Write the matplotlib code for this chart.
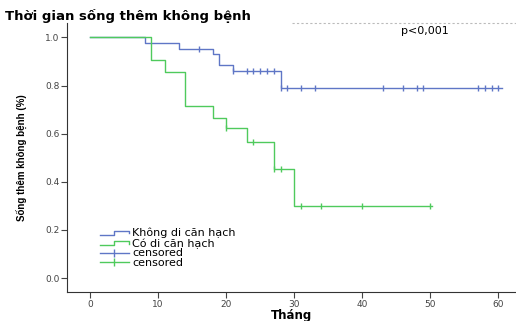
import matplotlib.pyplot as plt
from matplotlib.lines import Line2D
from matplotlib.legend_handler import HandlerBase

# data
blue_times = [0, 8, 13, 18, 19, 21, 28]
blue_surv = [1.0, 0.977, 0.954, 0.932, 0.886, 0.860, 0.789]
blue_end = 60.5
blue_cens_t = [16, 21, 23, 24, 25, 26, 27, 28, 29, 31, 33, 43, 46, 48, 49, 57, 58, 59, 60]

green_times = [0, 9, 11, 14, 18, 20, 23, 27, 30]
green_surv = [1.0, 0.905, 0.857, 0.714, 0.667, 0.622, 0.566, 0.453, 0.300]
green_end = 50.3
green_cens_t = [20, 24, 27, 28, 31, 34, 40, 50]

labels = ['Không di căn hạch', 'Có di căn hạch', 'censored', 'censored']
blue = '#5f76c6'
green = '#4fca5c'

plt.rcParams['font.family'] = ['DejaVu Sans']


def surv_at(times, surv, t):
    v = surv[0]
    for ti, si in zip(times, surv):
        if ti <= t:
            v = si
    return v


class StepHandler(HandlerBase):
    def create_artists(self, legend, orig, xd, yd, w, h, fs, trans):
        lo, hi = yd + h * 0.2, yd + h * 0.7
        xs = [xd, xd + w * 0.5, xd + w * 0.5, xd + w, xd + w]
        ys = [lo, lo, hi, hi, hi - h * 0.3]
        ln = Line2D(xs, ys, color=orig.get_color(), lw=1, transform=trans)
        return [ln]


W, H = 516, 321
fig = plt.figure(figsize=(W / 100, H / 100), dpi=100)
ax = fig.add_axes([67 / W, 1 - 292 / H, 1 - 67 / W, (292 - 23) / H])

for times, surv, end, cens, col in [(blue_times, blue_surv, blue_end, blue_cens_t, blue),
                                    (green_times, green_surv, green_end, green_cens_t, green)]:
    ax.step(times + [end], surv + [surv[-1]], where='post', color=col, lw=1)
    cy = [surv_at(times, surv, t) for t in cens]
    ax.plot(cens, cy, ls='none', marker='|', ms=5, mew=1, color=col)

ax.set_xlim(-3.4, 62.6)
ax.set_ylim(-0.058, 1.06)
ax.set_xticks([0, 10, 20, 30, 40, 50, 60])
ax.set_yticks([0.0, 0.2, 0.4, 0.6, 0.8, 1.0])
ax.set_yticklabels(['0.0', '0.2', '0.4', '0.6', '0.8', '1.0'])
for s in ['top', 'right']:
    ax.spines[s].set_visible(False)
for s in ['left', 'bottom']:
    ax.spines[s].set_color('#333333')
    ax.spines[s].set_linewidth(0.8)
ax.tick_params(labelsize=6.5, colors='#444444', length=4, width=0.8, pad=1.5)
ax.set_xlabel('Tháng', fontsize=8.5, fontweight='bold', labelpad=0)
ax.set_ylabel('Sống thêm không bệnh (%)', fontsize=7, fontweight='bold', labelpad=12,
              family=['Liberation Sans Narrow', 'Liberation Sans'])

h1 = Line2D([], [], color=blue)
h2 = Line2D([], [], color=green)
h3 = Line2D([], [], color=blue, marker='|', ms=6, lw=1)
h4 = Line2D([], [], color=green, marker='|', ms=6, lw=1)
ax.legend([h1, h2, h3, h4], labels, handler_map={h1: StepHandler(), h2: StepHandler()},
          loc='upper left', bbox_to_anchor=(100 / W, 1 - 228 / H), bbox_transform=fig.transFigure,
          frameon=False, fontsize=8, handlelength=2.6, handletextpad=0.3,
          labelspacing=-0.02, borderaxespad=0, borderpad=0)

fig.text(401 / W, 1 - 31 / H, 'p<0,001', fontsize=8, va='center', ha='left')
fig.text(5 / W, 1 - 16 / H, 'Thời gian sống thêm không bệnh', fontsize=9.5,
         fontweight='bold', va='center', ha='left')
fig.add_artist(Line2D([292 / W, 1], [1 - 23 / H, 1 - 23 / H], color='#bbbbbb',
                      lw=0.8, ls=(0, (2, 2))))

fig.savefig('out.png', dpi=100)
